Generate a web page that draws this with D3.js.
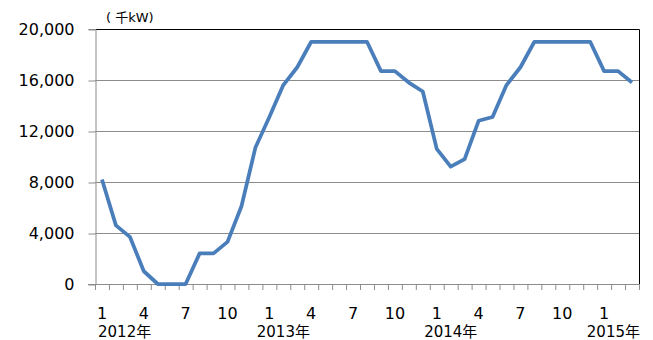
<!DOCTYPE html>
<html>
<head>
<meta charset="utf-8">
<script src="https://cdn.jsdelivr.net/npm/d3@7"></script>
<style>
  html, body { margin: 0; padding: 0; background: #fff; }
  svg { display: block; }
  text { font-family: "DejaVu Sans", "Noto Sans CJK JP", sans-serif; fill: #000; }
</style>
</head>
<body>
<svg id="chart" width="653" height="340"></svg>
<script>
// Monthly capacity, thousand kW, January 2012 – March 2015
const years = [2012, 2013, 2014, 2015];
const monthsPerYear = [12, 12, 12, 3];
const values2012 = [8200, 4600, 3700, 1000, 0, 0, 0, 2400, 2400, 3300, 6100, 10700];
const values2013 = [13100, 15600, 17000, 19000, 19000, 19000, 19000, 19000, 16700, 16700, 15800, 15100];
const values2014 = [10600, 9200, 9800, 12800, 13100, 15600, 17000, 19000, 19000, 19000, 19000, 19000];
const values2015 = [16700, 16700, 15800];
const yTicks = [0, 4000, 8000, 12000, 16000, 20000];
const labelledMonths = [1, 4, 7, 10];
const unitLabel = "( 千kW)";

// Flatten into one record per month
const seriesByYear = [values2012, values2013, values2014, values2015];
const data = [];
years.forEach((yr, yi) => {
  for (let m = 0; m < monthsPerYear[yi]; m++) {
    data.push({ year: yr, month: m + 1, value: seriesByYear[yi][m] });
  }
});

const svg = d3.select("#chart");
const plot = { left: 95, right: 639, top: 29, bottom: 284 };

const x = d3.scaleBand()
  .domain(d3.range(data.length))
  .range([plot.left, plot.right])
  .paddingInner(0).paddingOuter(0);
const cx = i => x(i) + x.bandwidth() / 2;

const y = d3.scaleLinear()
  .domain([0, 20000])
  .range([plot.bottom, plot.top]);

const gridColor = "#8c8c8c";

// Horizontal gridlines
svg.append("g")
  .selectAll("line")
  .data(yTicks.filter(v => v > 0 && v < 20000))
  .join("line")
  .attr("x1", plot.left).attr("x2", plot.right)
  .attr("y1", d => y(d) + 0.5).attr("y2", d => y(d) + 0.5)
  .attr("stroke", gridColor).attr("stroke-width", 1);

// Plot-area frame (top and right)
svg.append("path")
  .attr("d", `M${plot.left},${y(20000) + 0.5}H${plot.right + 0.5}V${plot.bottom}`)
  .attr("fill", "none").attr("stroke", "#000").attr("stroke-width", 1);

// Value axis
const yAxis = d3.axisLeft(y)
  .tickValues(yTicks)
  .tickSize(7)
  .tickPadding(14)
  .tickFormat(d3.format(","));
const gy = svg.append("g")
  .attr("transform", `translate(${plot.left + 0.5},0)`)
  .call(yAxis);
gy.select(".domain").attr("stroke", gridColor);
gy.selectAll(".tick line").attr("stroke", gridColor)
  .attr("transform", "translate(0,0.5)");
gy.selectAll(".tick text")
  .attr("font-size", 16)
  .style("font-family", "'DejaVu Sans', sans-serif");

// Category axis: baseline, tick marks on band edges
const gx = svg.append("g");
gx.append("line")
  .attr("x1", plot.left - 7).attr("x2", plot.right)
  .attr("y1", plot.bottom + 0.5).attr("y2", plot.bottom + 0.5)
  .attr("stroke", gridColor);
gx.selectAll("line.tick")
  .data(d3.range(data.length + 1))
  .join("line")
  .attr("class", "tick")
  .attr("x1", i => (i < data.length ? x(i) : plot.right) + 0.5)
  .attr("x2", i => (i < data.length ? x(i) : plot.right) + 0.5)
  .attr("y1", plot.bottom).attr("y2", plot.bottom + 6)
  .attr("stroke", gridColor);

// Month labels
gx.selectAll("text.month")
  .data(data.map((d, i) => ({ ...d, i })).filter(d => labelledMonths.includes(d.month)))
  .join("text")
  .attr("class", "month")
  .attr("x", d => cx(d.i))
  .attr("y", 319)
  .attr("text-anchor", "middle")
  .attr("font-size", 16)
  .text(d => d.month);

// Year labels under each January, kept inside the chart width
const yearFont = 15;
gx.selectAll("text.year")
  .data(data.map((d, i) => ({ ...d, i })).filter(d => d.month === 1))
  .join("text")
  .attr("class", "year")
  .attr("y", 337)
  .attr("font-size", yearFont)
  .text(d => d.year + "年")
  .each(function (d) {
    const w = this.getComputedTextLength();
    let left = cx(d.i) + 14 - w / 2;
    left = Math.max(98, Math.min(left, plot.right + 1 - w));
    d3.select(this).attr("x", left);
  });

// Unit label
svg.append("text")
  .attr("x", 106)
  .attr("y", 22)
  .attr("font-size", 13)
  .text(unitLabel);

// Series line
const line = d3.line()
  .x((d, i) => cx(i))
  .y(d => y(d.value));
svg.append("path")
  .datum(data)
  .attr("d", line)
  .attr("fill", "none")
  .attr("stroke", "#4a7ebb")
  .attr("stroke-width", 3.75)
  .attr("stroke-linejoin", "round");
</script>
</body>
</html>
